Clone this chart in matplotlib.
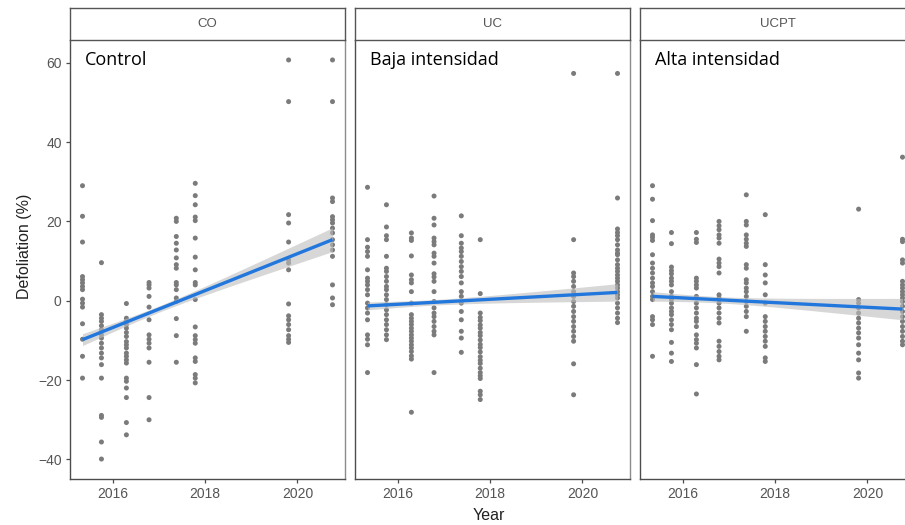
import numpy as np
import matplotlib
matplotlib.use("Agg")
import matplotlib.pyplot as plt

# Survey dates (decimal years) shared by all three treatments
survey_year = [2015.35, 2015.76, 2016.30, 2016.79, 2017.38, 2017.79, 2019.81, 2020.76]
panel_names = ["CO", "UC", "UCPT"]
panel_labels = ["Control", "Baja intensidad", "Alta intensidad"]
x_ticks = [2016, 2018, 2020]
y_ticks = [-40, -20, 0, 20, 40, 60]

# Defoliation (%) per tree, one list per survey date
co_defoliation = [
    [29.0, 21.3, 14.8, 6.1, 5.3, 4.5, 3.6, 2.8, 0.4, -0.6, -1.6, -5.8, -9.7, -14.0, -19.5],
    [9.6, -3.5, -4.4, -5.2, -6.3, -7.3, -8.6, -9.4, -10.7, -11.9, -13.2, -14.4, -16.1, -19.5,
     -28.9, -29.4, -35.6, -39.9],
    [-0.7, -4.4, -5.2, -6.0, -6.9, -8.0, -9.0, -10.3, -11.1, -11.9, -13.2, -14.0, -14.9, -15.7,
     -19.5, -20.3, -22.0, -24.4, -30.7, -33.8],
    [4.6, 4.0, 3.2, 1.1, -1.6, -4.8, -8.6, -9.7, -10.7, -11.9, -15.5, -24.4, -30.0],
    [20.8, 20.0, 16.2, 14.5, 12.8, 10.8, 9.1, 8.2, 4.6, 4.0, 2.8, 0.7, -0.2, -4.5, -8.8, -15.5],
    [29.6, 26.5, 24.2, 21.1, 20.2, 15.8, 11.0, 7.8, 4.6, 4.0, 0.3, -6.6, -8.8, -9.8, -10.7,
     -14.4, -15.3, -18.6, -19.5, -20.7],
    [60.7, 50.2, 21.7, 19.6, 14.8, 10.3, 9.5, 7.8, -0.8, -3.8, -4.8, -6.0, -7.3, -8.8, -9.7, -10.5],
    [60.7, 50.2, 25.9, 25.0, 21.2, 20.4, 19.6, 18.3, 17.1, 15.4, 14.1, 12.8, 11.2, 4.0, 0.7, -1.0],
]

uc_defoliation = [
    [28.6, 15.4, 13.5, 12.4, 11.2, 7.8, 5.7, 4.9, 4.0, 2.8, 1.5, -0.6, -1.8, -3.1, -4.8, -8.6,
     -9.7, -11.1, -18.1],
    [24.2, 18.6, 16.4, 15.4, 11.2, 8.2, 7.4, 6.1, 4.9, 3.6, 2.8, 1.5, 0.3, -1.0, -2.3, -3.5,
     -4.8, -6.0, -7.3, -8.6, -9.8],
    [17.1, 15.8, 15.2, 11.3, 6.5, 5.3, 4.5, 2.3, -0.6, -3.5, -4.4, -5.2, -6.0, -6.9, -7.7, -8.6,
     -9.4, -10.2, -11.1, -11.9, -12.8, -13.9, -14.7, -28.1],
    [26.4, 20.8, 19.1, 15.8, 14.9, 14.1, 12.0, 11.2, 9.5, 6.8, 6.0, 4.9, 2.3, -0.2, -1.8, -3.1,
     -4.0, -5.2, -6.5, -7.7, -8.6, -18.1],
    [21.4, 16.4, 14.5, 13.3, 12.4, 11.2, 9.9, 8.6, 7.4, 6.1, 4.5, 2.3, 1.1, -0.6, -2.7, -4.8,
     -7.7, -9.4, -13.0],
    [15.4, 1.8, -3.1, -4.2, -5.0, -6.1, -6.9, -8.0, -8.8, -9.9, -11.0, -11.8, -12.9, -14.1,
     -15.0, -15.8, -17.0, -18.1, -18.9, -19.6, -22.8, -23.7, -24.9],
    [57.3, 15.4, 7.0, 6.1, 4.9, 3.6, 2.3, 1.1, -0.2, -1.4, -2.7, -4.0, -5.2, -6.5, -7.7, -9.0,
     -10.2, -15.9, -23.7],
    [57.3, 25.9, 18.1, 17.2, 16.4, 15.4, 14.1, 12.8, 12.0, 11.6, 10.3, 9.1, 8.2, 7.4, 6.5, 5.7,
     4.9, 4.0, 3.2, 2.3, 1.5, 0.7, -0.6, -1.8, -3.1, -4.4, -5.5],
]

ucpt_defoliation = [
    [29.0, 25.6, 20.2, 16.6, 16.0, 15.2, 11.6, 9.5, 8.2, 7.0, 5.7, 4.5, 3.6, 2.3, 1.1, 0.3,
     -4.0, -4.8, -6.0, -14.0],
    [17.2, 14.4, 8.5, 7.6, 6.8, 5.7, 4.9, 4.0, 2.3, 1.1, 0.3, -0.6, -1.8, -2.7, -3.5, -4.8,
     -6.0, -7.3, -10.5, -13.2, -15.3],
    [17.2, 15.5, 14.7, 5.7, 4.9, 4.0, 3.2, 1.1, -0.6, -1.8, -3.1, -4.4, -5.2, -6.5, -8.6, -9.8,
     -10.7, -11.9, -16.1, -23.5],
    [20.0, 18.9, 17.9, 16.6, 15.8, 14.5, 10.5, 9.5, 8.6, 7.0, 1.5, 0.7, -0.6, -1.8, -3.1, -4.4,
     -5.6, -10.2, -11.5, -12.8, -14.0, -14.9],
    [26.7, 20.0, 19.1, 16.6, 15.5, 14.5, 13.7, 9.1, 8.2, 5.3, 4.5, 3.2, 2.3, 1.1, -0.2, -1.4,
     -2.7, -4.0, -7.7],
    [21.7, 9.1, 6.5, 4.5, 1.5, -0.6, -4.0, -5.2, -6.5, -7.7, -9.0, -10.2, -11.5, -14.4, -15.3],
    [23.1, 0.3, -0.6, -1.8, -3.1, -4.4, -5.6, -6.9, -8.1, -9.4, -11.1, -13.2, -14.9, -18.2, -19.5],
    [36.2, 15.5, 14.9, 10.3, 9.5, 4.9, 4.0, 3.2, 2.3, 1.5, 0.7, -0.2, -1.4, -2.7, -4.0, -5.2,
     -6.5, -7.7, -9.0, -10.2, -11.1],
]

panel_data = [co_defoliation, uc_defoliation, ucpt_defoliation]

# Linear trend (fitted defoliation at first and last survey) and
# half-width of its 95% confidence band at the first survey, narrowest point and last survey
trend_first = [-9.8, -1.3, 1.1]
trend_last = [15.4, 2.1, -2.1]
band_first = [1.5, 1.0, 1.2]
band_narrow = [0.8, 0.7, 0.8]
band_last = [3.0, 2.2, 2.7]

POINT_COLOR = "#7b7b7b"
LINE_COLOR = "#2277dd"
BAND_COLOR = "#bdbdbd"
AXIS_COLOR = "#4d4d4d"
TICK_TEXT = "#555555"

plt.rcParams["font.family"] = ["Liberation Sans", "DejaVu Sans"]

W, H = 905, 525
fig = plt.figure(figsize=(W / 100, H / 100), dpi=100)
fig.patch.set_facecolor("white")


def flatten(panel):
    xs, ys = [], []
    for yr, vals in zip(survey_year, panel):
        xs.extend([yr] * len(vals))
        ys.extend(vals)
    return np.array(xs), np.array(ys)


def band_halfwidth(xf, x0, x1, w0, wmin, w1):
    # hyperbolic confidence band: w(x)^2 = wmin^2 + c * (x - xc)^2
    r = np.sqrt((w0 ** 2 - wmin ** 2) / (w1 ** 2 - wmin ** 2))
    xc = (x0 + r * x1) / (1 + r)
    c = (w1 ** 2 - wmin ** 2) / (x1 - xc) ** 2
    return np.sqrt(wmin ** 2 + c * (xf - xc) ** 2)


# shared scales with 5% expansion, as in ggplot
all_y = np.concatenate([flatten(p)[1] for p in panel_data])
x_span = max(survey_year) - min(survey_year)
xlim = (min(survey_year) - 0.05 * x_span, max(survey_year) + 0.05 * x_span)
y_span = all_y.max() - all_y.min()
ylim = (all_y.min() - 0.05 * y_span, all_y.max() + 0.05 * y_span)

panel_left_px = [70, 355, 640]
panel_w_px = 275
panel_top_px, panel_bot_px = 40, 479
strip_top_px = 8

for i, (name, label, panel) in enumerate(zip(panel_names, panel_labels, panel_data)):
    left = panel_left_px[i] / W
    width = panel_w_px / W
    bottom = 1 - panel_bot_px / H
    height = (panel_bot_px - panel_top_px) / H
    ax = fig.add_axes([left, bottom, width, height])

    x, y = flatten(panel)
    ax.scatter(x, y, s=13, color=POINT_COLOR, edgecolors="none", zorder=2)

    # linear trend with its confidence band
    x0, x1 = min(survey_year), max(survey_year)
    xf = np.linspace(x0, x1, 120)
    yf = np.interp(xf, [x0, x1], [trend_first[i], trend_last[i]])
    hw = band_halfwidth(xf, x0, x1, band_first[i], band_narrow[i], band_last[i])
    ax.fill_between(xf, yf - hw, yf + hw, color=BAND_COLOR, alpha=0.6,
                    linewidth=0, zorder=3)
    ax.plot(xf, yf, color=LINE_COLOR, linewidth=2.4, zorder=4, solid_capstyle="butt")

    ax.set_xlim(xlim)
    ax.set_ylim(ylim)
    ax.set_xticks(x_ticks)
    ax.set_xticklabels([str(v) for v in x_ticks])
    ax.set_yticks(y_ticks)
    ax.tick_params(axis="both", colors=AXIS_COLOR, labelcolor=TICK_TEXT, labelsize=10,
                   length=3, width=0.9, direction="out", pad=3)
    if i > 0:
        ax.tick_params(axis="y", left=False, labelleft=False)
    for side in ("left", "bottom"):
        ax.spines[side].set_color(AXIS_COLOR)
        ax.spines[side].set_linewidth(1.0)
    ax.spines["right"].set_color("#8c8c8c")
    ax.spines["right"].set_linewidth(1.0)
    ax.spines["top"].set_visible(False)

    ax.text(2015.4, 59.4, label, fontsize=13, family=["Open Sans", "DejaVu Sans"],
            color="black", ha="left", va="baseline", zorder=5)

    # facet strip
    sax = fig.add_axes([left, 1 - panel_top_px / H, width,
                        (panel_top_px - strip_top_px) / H])
    sax.set_xticks([])
    sax.set_yticks([])
    sax.set_facecolor("white")
    for sp in sax.spines.values():
        sp.set_color("#555555")
        sp.set_linewidth(1.0)
    sax.text(0.5, 0.5, name, transform=sax.transAxes, ha="center", va="center",
             fontsize=9.5, color="#555555")

fig.text(25 / W, 1 - 246 / H, "Defoliation (%)", rotation=90, ha="center", va="center",
         fontsize=11.5, color="#222222")
fig.text(489 / W, 1 - 516 / H, "Year", ha="center", va="center", fontsize=11.5,
         color="#222222")

fig.savefig("out.png", dpi=100, facecolor="white")
